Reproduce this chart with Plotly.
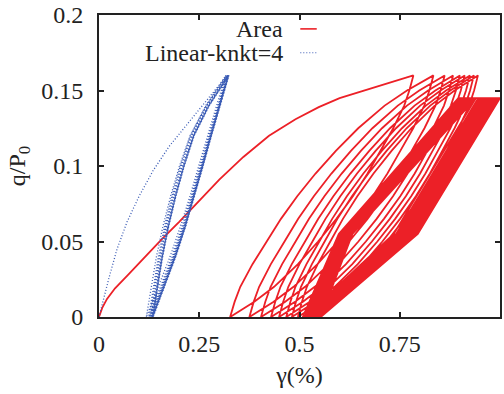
import plotly.graph_objects as go

# ---------------- data ----------------
# "Area" model - monotonic first loading (x = gamma %, y = q/P0)
AREA_INIT_X = [0.0, 0.008, 0.02, 0.04, 0.073, 0.115, 0.155, 0.2, 0.25, 0.3, 0.36, 0.424,
               0.49, 0.548, 0.6, 0.648, 0.72, 0.784]
AREA_INIT_Y = [0.0, 0.006, 0.012, 0.019, 0.028, 0.040, 0.051, 0.063, 0.077, 0.091, 0.106, 0.120,
               0.131, 0.139, 0.145, 0.149, 0.155, 0.160]

# first stage of cycles (q between 0 and 0.16): peaks and following valleys
AREA_S1_PEAK = [0.784, 0.834, 0.862, 0.883, 0.900, 0.912, 0.925, 0.935, 0.945]
AREA_S1_VALLEY = [0.327, 0.375, 0.404, 0.429, 0.449, 0.467, 0.481, 0.496, 0.508]
AREA_S1_QMAX = 0.16
# shape of a reloading branch (fraction of the valley->peak span reached at each q level)
AREA_S1_Q = [0.0, 0.01, 0.02, 0.035, 0.05, 0.065, 0.08, 0.095, 0.11, 0.125, 0.14, 0.15, 0.16]
AREA_S1_LOAD_FRAC = [0.0, 0.022, 0.05, 0.11, 0.18, 0.25, 0.33, 0.42, 0.52, 0.63, 0.76, 0.87, 1.0]
# shape of an unloading branch (fraction of the peak->valley span, from the peak, at q = QMAX - AREA_S1_Q)
AREA_S1_UNLOAD_FRAC = [0.0, 0.022, 0.05, 0.11, 0.18, 0.25, 0.33, 0.42, 0.52, 0.63, 0.76, 0.87, 1.0]

# second stage of cycles (q between 0 and 0.145): piecewise-linear loops, knee at q = 0.055,
# short hold at q = 0.145 (top-left -> top-right)
AREA_S2_QMAX = 0.145
AREA_S2_QKNEE = 0.055
AREA_S2_VALLEY = [0.508, 0.513, 0.517, 0.520, 0.523, 0.526, 0.529, 0.531, 0.533, 0.535, 0.537,
                  0.539, 0.540, 0.541, 0.543, 0.544, 0.545, 0.546, 0.547, 0.548, 0.549,
                  0.549, 0.550, 0.551, 0.551, 0.552, 0.552, 0.553, 0.553, 0.553, 0.553]
AREA_S2_KNEE_UP = [0.598, 0.601, 0.604, 0.607, 0.610, 0.612, 0.614, 0.615, 0.617, 0.618,
                   0.620, 0.621, 0.622, 0.623, 0.624, 0.625, 0.626, 0.627, 0.627, 0.628,
                   0.629, 0.629, 0.630, 0.630, 0.631, 0.631, 0.631, 0.632, 0.632, 0.632]
AREA_S2_TOP_L = [0.896, 0.900, 0.904, 0.908, 0.911, 0.914, 0.916, 0.918, 0.921, 0.922,
                 0.924, 0.926, 0.927, 0.929, 0.930, 0.931, 0.932, 0.933, 0.934, 0.935,
                 0.936, 0.936, 0.937, 0.938, 0.938, 0.939, 0.939, 0.940, 0.940, 0.940]
AREA_S2_TOP_R = [0.940, 0.946, 0.951, 0.956, 0.960, 0.964, 0.968, 0.971, 0.974, 0.976,
                 0.978, 0.981, 0.983, 0.984, 0.986, 0.988, 0.989, 0.990, 0.992, 0.993,
                 0.994, 0.995, 0.996, 0.997, 0.998, 0.998, 0.999, 0.999, 1.000, 1.000]
AREA_S2_KNEE_DOWN = [0.735, 0.741, 0.746, 0.751, 0.755, 0.759, 0.763, 0.766, 0.769, 0.771,
                     0.773, 0.776, 0.778, 0.779, 0.781, 0.783, 0.784, 0.785, 0.787, 0.788,
                     0.789, 0.790, 0.791, 0.792, 0.793, 0.793, 0.794, 0.794, 0.795, 0.795]

# "Linear-knkt=4" model
LIN_INIT_X = [0.0, 0.01, 0.025, 0.045, 0.07, 0.10, 0.135, 0.175, 0.22, 0.27, 0.32]
LIN_INIT_Y = [0.0, 0.011, 0.026, 0.045, 0.063, 0.080, 0.097, 0.113, 0.128, 0.144, 0.160]
LIN_PEAK = [0.320, 0.316, 0.318, 0.319, 0.320, 0.321, 0.322, 0.322, 0.323, 0.323, 0.324, 0.324]
LIN_VALLEY = [0.118, 0.124, 0.127, 0.129, 0.130, 0.131, 0.132, 0.133, 0.134, 0.134, 0.135, 0.135]
LIN_QMAX = 0.16
LIN_Q = [0.0, 0.02, 0.04, 0.06, 0.08, 0.10, 0.12, 0.14, 0.16]
LIN_UNLOAD_FRAC = [0.0, 0.06, 0.125, 0.205, 0.30, 0.41, 0.54, 0.74, 1.0]   # from valley
LIN_LOAD_FRAC = [0.0, 0.15, 0.30, 0.43, 0.55, 0.66, 0.77, 0.885, 1.0]     # from valley

X_TICKS = [0, 0.25, 0.5, 0.75, 1]
X_TICK_TEXT = ["0", "0.25", "0.5", "0.75", "1"]
Y_TICKS = [0, 0.05, 0.1, 0.15, 0.2]
Y_TICK_TEXT = ["0", "0.05", "0.1", "0.15", "0.2"]

RED = "#ec2027"
BLUE = "#3a5bb5"
FONT = "Liberation Serif, Times New Roman, serif"

# ---------------- build paths ----------------
ax, ay = list(AREA_INIT_X), list(AREA_INIT_Y)
n1 = len(AREA_S1_PEAK)
for i in range(n1):
    p = AREA_S1_PEAK[i]
    v = AREA_S1_VALLEY[i]
    for f, q in zip(AREA_S1_UNLOAD_FRAC, AREA_S1_Q):
        ax.append(p - f * (p - v))
        ay.append(AREA_S1_QMAX - q)
    if i + 1 < n1:
        pn = AREA_S1_PEAK[i + 1]
        for f, q in zip(AREA_S1_LOAD_FRAC, AREA_S1_Q):
            ax.append(v + f * (pn - v))
            ay.append(q)
for j in range(len(AREA_S2_TOP_L)):
    ax += [AREA_S2_KNEE_UP[j], AREA_S2_TOP_L[j], AREA_S2_TOP_R[j],
           AREA_S2_KNEE_DOWN[j], AREA_S2_VALLEY[j + 1]]
    ay += [AREA_S2_QKNEE, AREA_S2_QMAX, AREA_S2_QMAX, AREA_S2_QKNEE, 0.0]

lx, ly = list(LIN_INIT_X), list(LIN_INIT_Y)
for i in range(len(LIN_PEAK)):
    p = LIN_PEAK[i]
    v = LIN_VALLEY[i]
    for f, q in zip(reversed(LIN_UNLOAD_FRAC), reversed(LIN_Q)):
        lx.append(v + f * (p - v))
        ly.append(q)
    if i + 1 < len(LIN_PEAK):
        pn = LIN_PEAK[i + 1]
        for f, q in zip(LIN_LOAD_FRAC, LIN_Q):
            lx.append(v + f * (pn - v))
            ly.append(q)

fig = go.Figure()
fig.add_trace(go.Scatter(x=ax, y=ay, mode="lines", name="Area",
                         line=dict(color=RED, width=1.8), showlegend=False))
fig.add_trace(go.Scatter(x=lx, y=ly, mode="lines", name="Linear-knkt=4",
                         line=dict(color=BLUE, width=1.3, dash="1px,2px"), showlegend=False))

# gnuplot-style key: text right-aligned, sample to the right
for label, color, dash, yp in [("Area", RED, "solid", 0.954),
                               ("Linear-knkt=4", BLUE, "1px,2px", 0.875)]:
    fig.add_annotation(xref="paper", yref="paper", x=0.465, y=yp, text=label,
                       showarrow=False, xanchor="right", yanchor="middle",
                       font=dict(family=FONT, size=24, color="#222"))
    fig.add_shape(type="line", xref="paper", yref="paper", x0=0.502, x1=0.543, y0=yp, y1=yp,
                  line=dict(color=color, width=1.6 if dash == "solid" else 1.2, dash=dash))

axis_common = dict(showline=True, linecolor="#222", linewidth=2, mirror="ticks",
                   ticks="inside", ticklen=5, tickwidth=1.5, tickcolor="#222",
                   showgrid=False, zeroline=False,
                   tickfont=dict(family=FONT, size=24, color="#222"))

fig.update_xaxes(range=[0, 1], tickvals=X_TICKS, ticktext=X_TICK_TEXT, ticklabelstandoff=4,
                 title=dict(text="γ(%)", font=dict(family=FONT, size=24, color="#222"), standoff=10),
                 **axis_common)
fig.update_yaxes(range=[0, 0.2], tickvals=Y_TICKS, ticktext=Y_TICK_TEXT, ticklabelstandoff=9,
                 title=dict(text="q/P<sub>0</sub>", font=dict(family=FONT, size=24, color="#222"), standoff=9),
                 **axis_common)

fig.update_layout(width=504, height=394, margin=dict(l=99, r=2, t=13, b=77),
                  paper_bgcolor="white", plot_bgcolor="white")

fig.write_html("out.html")
